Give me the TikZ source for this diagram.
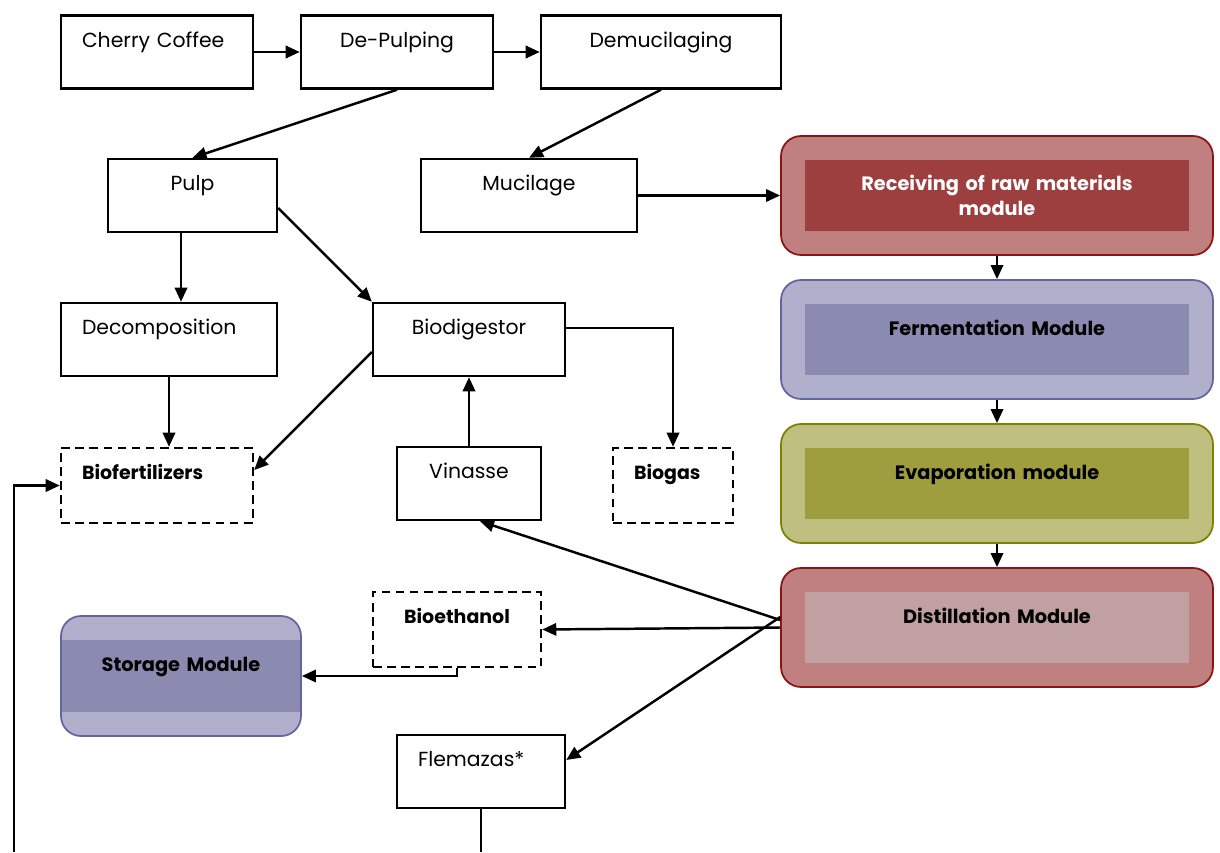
\documentclass[tikz,border=0pt]{standalone}
\usepackage{fontspec}
\setmainfont{Poppins}
\usetikzlibrary{arrows.meta,calc}
\definecolor{redouter}{RGB}{192,128,128}
\definecolor{redline}{RGB}{140,20,20}
\definecolor{recvinner}{RGB}{157,62,63}
\definecolor{distinner}{RGB}{192,160,160}
\definecolor{blueouter}{RGB}{176,176,204}
\definecolor{blueline}{RGB}{100,100,160}
\definecolor{blueinner}{RGB}{139,139,177}
\definecolor{oliveouter}{RGB}{191,191,128}
\definecolor{oliveline}{RGB}{128,128,0}
\definecolor{oliveinner}{RGB}{158,158,62}

\begin{document}
\begin{tikzpicture}[
    x=0.02cm, y=-0.02cm,
    box/.style={draw, line width=1.4pt, inner xsep=0.42cm, inner ysep=0pt, text height=0.63cm, text depth=0.83cm, font=\fontsize{11.6}{13}\selectfont},
    dashbox/.style={box, dash pattern=on 5pt off 3pt, text depth=0.87cm, font=\fontsize{10.8}{13}\selectfont\bfseries},
    module/.style={draw, rounded corners=0.4cm, line width=1pt, minimum width=8.64cm, minimum height=2.38cm},
    modin/.style={inner sep=0pt, text width=7.7cm, align=center, minimum height=1.42cm, font=\fontsize{11}{14}\selectfont\bfseries},
    modtop/.style={modin, text height=0.62cm, text depth=0.8cm},
    arrow/.style={-{Triangle[length=8pt,width=7pt]}, line width=1.4pt}
]
\useasboundingbox (0,0) rectangle (1220,852);

% process chain
\node[box, text width=3.0cm, align=left] (cherry) at (157,52) {Cherry Coffee};
\node[box, text width=3.0cm, align=center] (depulp) at (397,52) {De-Pulping};
\node[box, text width=3.96cm, align=center] (demuc) at (661,52) {Demucilaging};
\node[box, text width=2.54cm, align=center] (pulp) at (192.5,195.5) {Pulp};
\node[box, text width=3.48cm, align=center] (mucil) at (529,195.5) {Mucilage};
\node[box, text width=3.48cm, align=left] (decomp) at (169,339.5) {Decomposition};
\node[box, text width=3.0cm, align=center] (biodig) at (469,339.5) {Biodigestor};
\node[dashbox, text width=3.0cm, align=left] (biofert) at (157,485.5) {Biofertilizers};
\node[box, text width=2.04cm, align=center] (vinasse) at (469,483.5) {Vinasse};
\node[dashbox, text width=1.56cm, align=left] (biogas) at (673,485.5) {Biogas};
\node[dashbox, text width=2.52cm, align=center] (bioeth) at (457,629.5) {Bioethanol};
\node[box, text width=2.52cm, align=left] (flemaz) at (481,771.5) {Flemazas*};

% modules
\node[module, draw=redline, fill=redouter] (recv) at (997,195.5) {};
\node[modin, fill=recvinner, text=white] (recvin) at (recv.center) {Receiving of raw materials\\module};
\node[module, draw=blueline, fill=blueouter] (ferm) at (997,339.5) {};
\node[modtop, fill=blueinner] (fermin) at (ferm.center) {Fermentation Module};
\node[module, draw=oliveline, fill=oliveouter] (evap) at (997,483.5) {};
\node[modtop, fill=oliveinner] (evapin) at (evap.center) {Evaporation module};
\node[module, draw=redline, fill=redouter] (dist) at (997,627.5) {};
\node[modtop, fill=distinner] (distin) at (dist.center) {Distillation Module};
\node[module, draw=blueline, fill=blueouter, minimum width=4.8cm, minimum height=2.4cm] (storage) at (181,676) {};
\node[modtop, fill=blueinner, text width=4.76cm, text depth=0.82cm] (storin) at (storage.center) {Storage Module};

% connectors
\draw[arrow] (cherry) -- (depulp);
\draw[arrow] (depulp) -- (demuc);
\draw[arrow] (depulp.south) -- (pulp.north);
\draw[arrow] (demuc.south) -- (mucil.north);
\draw[arrow] (mucil) -- (recv);
\draw[arrow] ([xshift=-0.23cm]pulp.south) -- ([xshift=-0.23cm]pulp.south |- decomp.north);
\draw[arrow] ([yshift=-0.25cm]pulp.east) -- (biodig.north west);
\draw[arrow] (decomp.south) -- (decomp.south |- biofert.north);
\draw[arrow] ([yshift=-0.25cm]biodig.west) -- ([yshift=0.31cm]biofert.east);
\draw[arrow] (vinasse) -- (biodig);
\draw[arrow] ([yshift=0.23cm]biodig.east) -| (biogas.north);
\draw[arrow] (recv) -- (ferm);
\draw[arrow] (ferm) -- (evap);
\draw[arrow] (evap) -- (dist);
\draw[arrow] ([yshift=0.15cm]dist.west) -- ([xshift=0.22cm]vinasse.south);
\draw[arrow] (dist.west) -- (bioeth.east);
\draw[arrow] ([yshift=0.21cm]dist.west) -- ([yshift=0.23cm]flemaz.east);
\draw[arrow] (bioeth.south) |- (storage.east);
\coordinate (flemout) at (481,852);
\draw[line width=1.4pt] (flemaz.south) -- (flemout);
\coordinate (retin) at (14,852);
\draw[arrow] (retin) |- (biofert.west);

\end{tikzpicture}
\end{document}
